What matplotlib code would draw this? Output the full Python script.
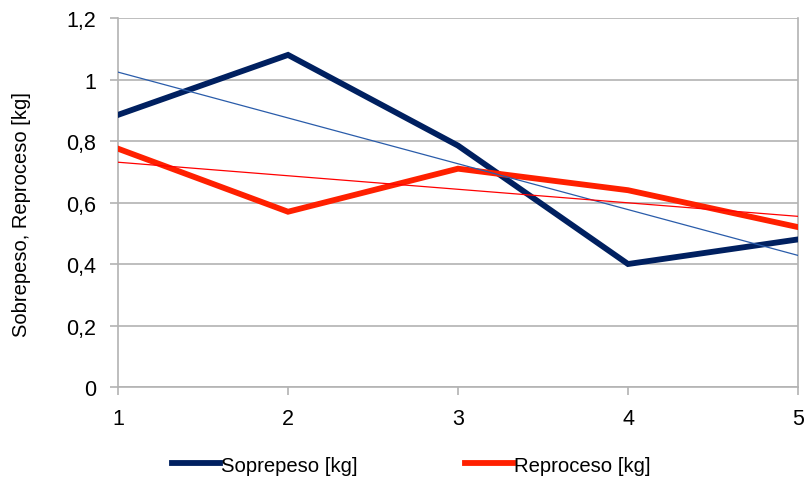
import numpy as np
import matplotlib
matplotlib.use('Agg')
import matplotlib.pyplot as plt
from matplotlib.ticker import FuncFormatter

plt.rcParams['font.family'] = ['Liberation Sans', 'DejaVu Sans']

# muestras
x = [1, 2, 3, 4, 5]
sobrepeso = [0.885, 1.08, 0.785, 0.40, 0.48]
reproceso = [0.775, 0.57, 0.71, 0.64, 0.52]

fig = plt.figure(figsize=(8.05, 4.81), dpi=100)
ax = fig.add_axes([0.1466, 0.1933, 0.8447, 0.7672])

navy = '#002060'
red = '#ff2000'

l1, = ax.plot(x, sobrepeso, color=navy, lw=4.2, solid_joinstyle='miter',
              label='Soprepeso [kg]', zorder=3)
l2, = ax.plot(x, reproceso, color=red, lw=4.2, solid_joinstyle='miter',
              label='Reproceso [kg]', zorder=3)

# lineas de tendencia (ajuste lineal)
xs = np.array(x, dtype=float)
for ys, c in [(sobrepeso, '#2a5caa'), (reproceso, '#ff0000')]:
    m, b = np.polyfit(xs, ys, 1)
    ax.plot(xs, m * xs + b, color=c, lw=0.9, zorder=4)

ax.set_xlim(1, 5)
ax.set_ylim(0, 1.2)
ax.set_xticks(x)
ax.set_yticks(np.arange(0, 1.21, 0.2))
ax.yaxis.set_major_formatter(FuncFormatter(
    lambda v, p: ('%g' % round(v, 1)).replace('.', ',')))
ax.grid(axis='y', color='#b3b3b3', lw=1.2)
ax.set_axisbelow(True)
for s in ax.spines.values():
    s.set_color('#b3b3b3')
    s.set_linewidth(1.2)
ax.spines['top'].set_visible(False)
ax.tick_params(axis='both', colors='#b3b3b3', length=6, width=1.2,
               labelcolor='black', labelsize=15.5)
ax.tick_params(axis='y', pad=10)
ax.tick_params(axis='x', pad=9)
ax.set_ylabel('Sobrepeso, Reproceso [kg]', fontsize=14.5)
ax.yaxis.set_label_coords(-0.128, 0.469)

fig.legend(handles=[l1, l2], loc='center', bbox_to_anchor=(0.511, 0.031),
           ncol=2, frameon=False, fontsize=14.6, handlelength=2.35,
           handletextpad=0.05, columnspacing=5.3)

fig.savefig('out.png', dpi=100)
